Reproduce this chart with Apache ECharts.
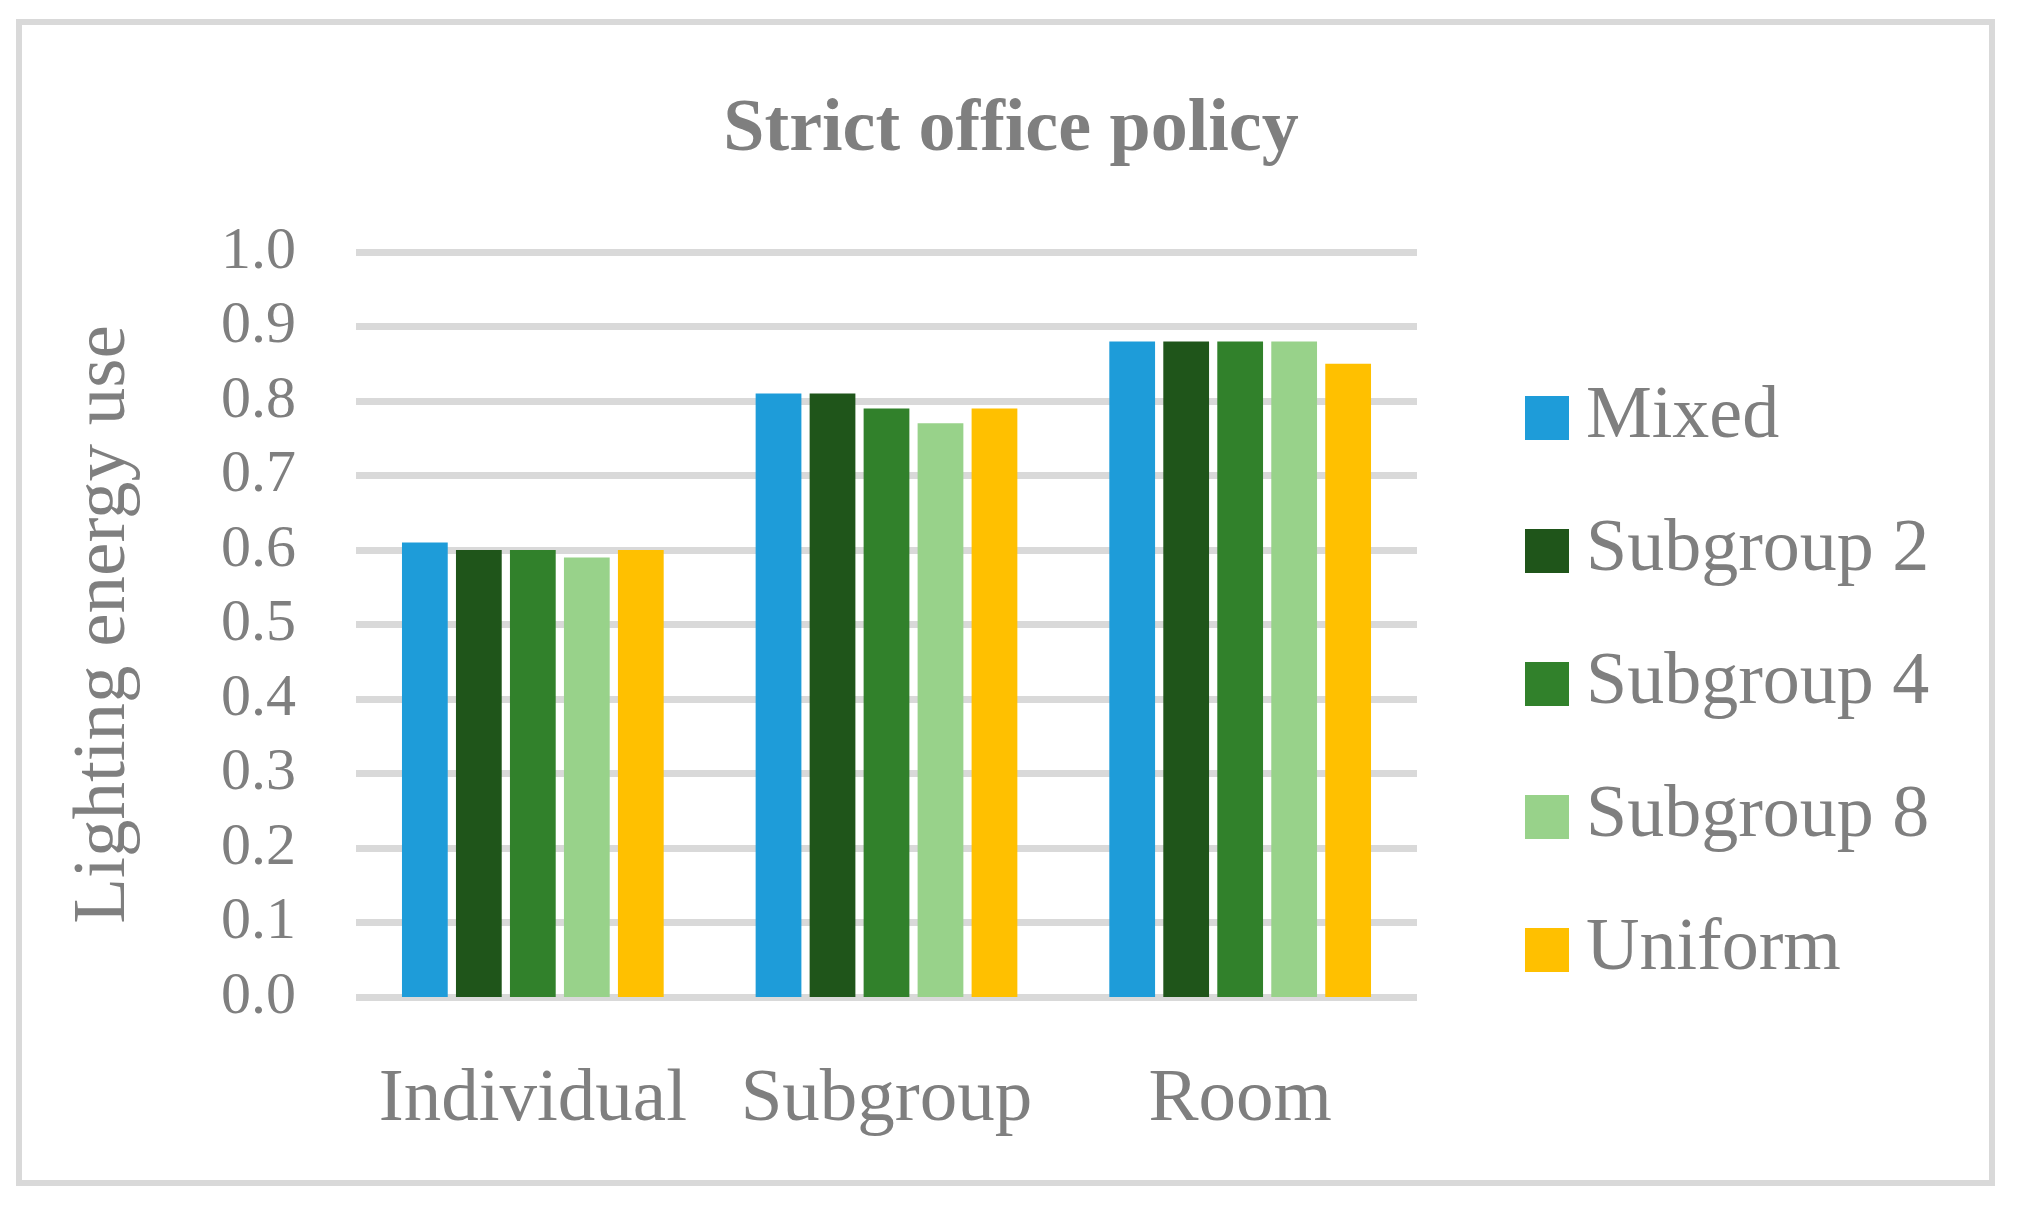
<!DOCTYPE html>
<html>
<head>
<meta charset="utf-8">
<script src="https://cdn.jsdelivr.net/npm/echarts@6/dist/echarts.min.js"></script>
<style>html,body{margin:0;padding:0;background:#fff}#c{width:2022px;height:1208px}</style>
</head>
<body>
<div id="c"></div>
<script>
const categories = ['Individual', 'Subgroup', 'Room'];
const seriesNames = ['Mixed', 'Subgroup 2', 'Subgroup 4', 'Subgroup 8', 'Uniform'];
const mixed = [0.61, 0.81, 0.88];
const subgroup2 = [0.60, 0.81, 0.88];
const subgroup4 = [0.60, 0.79, 0.88];
const subgroup8 = [0.59, 0.77, 0.88];
const uniform = [0.60, 0.79, 0.85];
const colors = ['#1e9cd9', '#1f551a', '#31812b', '#98d28a', '#ffc000'];
const titleText = 'Strict office policy';
const yAxisName = 'Lighting energy use';

const values = [mixed, subgroup2, subgroup4, subgroup8, uniform];
const font = '"Liberation Serif", "Times New Roman", serif';
const textColor = '#7f7f7f';

const chart = echarts.init(document.getElementById('c'));
chart.setOption({
  animation: false,
  backgroundColor: '#fff',
  textStyle: { fontFamily: font },
  title: {
    text: titleText,
    left: 'center',
    top: 89,
    textStyle: { fontFamily: font, fontSize: 74, fontWeight: 'bold', color: textColor }
  },
  graphic: [{
    type: 'rect',
    shape: { x: 19, y: 22, width: 1973, height: 1161 },
    style: { fill: 'none', stroke: '#d9d9d9', lineWidth: 6 },
    silent: true
  }],
  legend: {
    orient: 'vertical',
    left: 1520,
    top: 376,
    itemWidth: 44,
    itemHeight: 44,
    itemGap: 59,
    icon: 'rect',
    textStyle: { fontFamily: font, fontSize: 74, color: textColor, padding: [0, 0, 0, 12] },
    data: seriesNames
  },
  grid: { left: 356, right: 605, top: 252, bottom: 211, containLabel: false },
  xAxis: {
    type: 'category',
    data: categories,
    axisLine: { show: false },
    axisTick: { show: false },
    axisLabel: { fontFamily: font, fontSize: 75, color: textColor, margin: 66, interval: 0, hideOverlap: false }
  },
  yAxis: {
    type: 'value',
    min: 0,
    max: 1,
    interval: 0.1,
    name: yAxisName,
    nameLocation: 'middle',
    nameGap: 214,
    nameTextStyle: { fontFamily: font, fontSize: 75, color: textColor },
    axisLine: { show: false },
    axisTick: { show: false },
    axisLabel: { fontFamily: font, fontSize: 60, color: textColor, margin: 60,
      formatter: v => v.toFixed(1) },
    splitLine: { lineStyle: { color: '#d9d9d9', width: 7 } }
  },
  series: seriesNames.map((n, i) => ({
    name: n,
    type: 'bar',
    data: values[i],
    barGap: '18%',
    barCategoryGap: '26%',
    itemStyle: { color: colors[i] }
  }))
});
</script>
</body>
</html>
